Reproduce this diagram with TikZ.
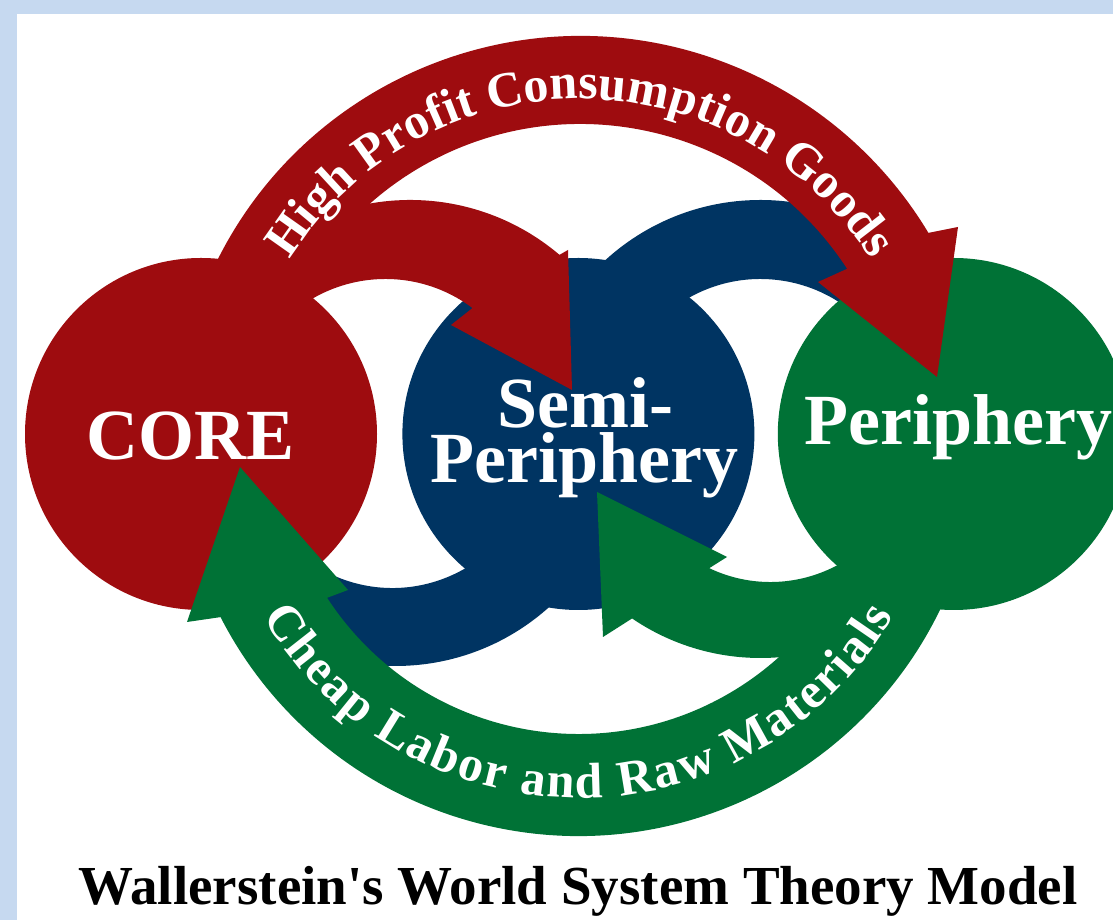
\documentclass[tikz,border=0pt]{standalone}
\usepackage{fontspec}
\setmainfont{Liberation Serif}
\usetikzlibrary{positioning,calc,backgrounds,decorations.text}

\definecolor{coreRed}{RGB}{158,12,15}
\definecolor{semiBlue}{RGB}{0,52,98}
\definecolor{periGreen}{RGB}{0,114,54}
\definecolor{frameBlue}{RGB}{198,217,240}

\begin{document}
\begin{tikzpicture}
    [x=1pt,y=1pt,
    zone/.style={circle, fill=#1, inner sep=0pt, minimum size=352pt},
    zone name/.style={text=white, inner sep=0pt, anchor=base,
        font=\fontsize{72}{72}\selectfont\bfseries},
    flow text/.style={decorate, decoration={text along path, text align=fit to path,
        text color=white, text={|\fontsize{50}{50}\selectfont\bfseries|#1}}}]

    %%% content
    \useasboundingbox (0,0) rectangle (1113,920);
    \node (core) [zone=coreRed] at (201,486) {};
    \node (semi) [zone=semiBlue, right=25pt of core] {};
    \node (periphery) [zone=periGreen, right=23pt of semi] {};

    %% frame and blue rings behind the circles
    \begin{scope}[on background layer]
        \fill[frameBlue] (0,0) rectangle (1113,920);
        \fill[white] (17,0) rectangle (1113,906);
        \fill[semiBlue] ($(semi)+(182,4)+(180:230)$) arc[start angle=180, end angle=40, radius=230]
            -- ($(semi)+(182,10)+(40:145)$) arc[start angle=40, end angle=180, radius=145] -- cycle;
        \fill[semiBlue] ($(semi)+(-183,-2)+(0:230)$) arc[start angle=0, end angle=-160, radius=230]
            -- ($(semi)+(-186,-9)+(-160:145)$) arc[start angle=-160, end angle=0, radius=145] -- cycle;
    \end{scope}

    %% small arrows
    \fill[coreRed] ($(semi)+(-168,4)+(175:230)$) arc[start angle=175, end angle=49.6, radius=230]
        -- (568,670) -- (572,530) -- (451,595)
        -- ($(semi)+(-193,10)+(53.1:145)$) arc[start angle=53.1, end angle=175, radius=145] -- cycle;
    \fill[periGreen] ($(semi)+(182,4)+(0:228)$) arc[start angle=0, end angle=-124.25, radius=228]
        -- (603,283) -- (597,428) -- (727,363)
        -- ($(semi)+(192,-6)+(-115.5:142)$) arc[start angle=-115.5, end angle=0, radius=142] -- cycle;

    %% big arrows
    \fill[coreRed] ($(semi)+(2,-8)+(158:406)$) arc[start angle=158, end angle=31, radius=406]
        -- (958,693) -- (937,543) -- (818,638)
        -- ($(semi)+(2,-8)+(33:318)$) arc[start angle=33, end angle=158, radius=318] -- cycle;
    \fill[periGreen] ($(semi)+(-15:402)$) arc[start angle=-15, end angle=-152.9, radius=402]
        -- (187,298) -- (240,453) -- (348,330)
        -- ($(semi)+(-146.9:300)$) arc[start angle=-146.9, end angle=-15, radius=300] -- cycle;

    %% texts
    \path[flow text={High Profit Consumption Goods}]
        ($(semi)+(2,-8)+(148:343)$) arc[start angle=148, end angle=32, radius=343];
    \path[flow text={Cheap Labor and Raw Materials}]
        ($(semi)+(210:364)$) arc[start angle=210, end angle=330, radius=364];

    \node (coreName) [zone name] at ([xshift=-10pt,yshift=-26pt]core.center) {CORE};
    \node (semiName) [zone name] at ([xshift=7pt,yshift=6pt]semi.center) {Semi-};
    \node (semiName2) [zone name] at ([xshift=6pt,yshift=-49pt]semi.center) {Periphery};
    \node (periName) [zone name] at ([xshift=4.5pt,yshift=-11pt]periphery.center) {Periphery};

    \node (title) [anchor=base, inner sep=0pt, font=\fontsize{55}{55}\selectfont\bfseries]
        at (578,15) {Wallerstein\textquotesingle s World System Theory Model};
\end{tikzpicture}
\end{document}
